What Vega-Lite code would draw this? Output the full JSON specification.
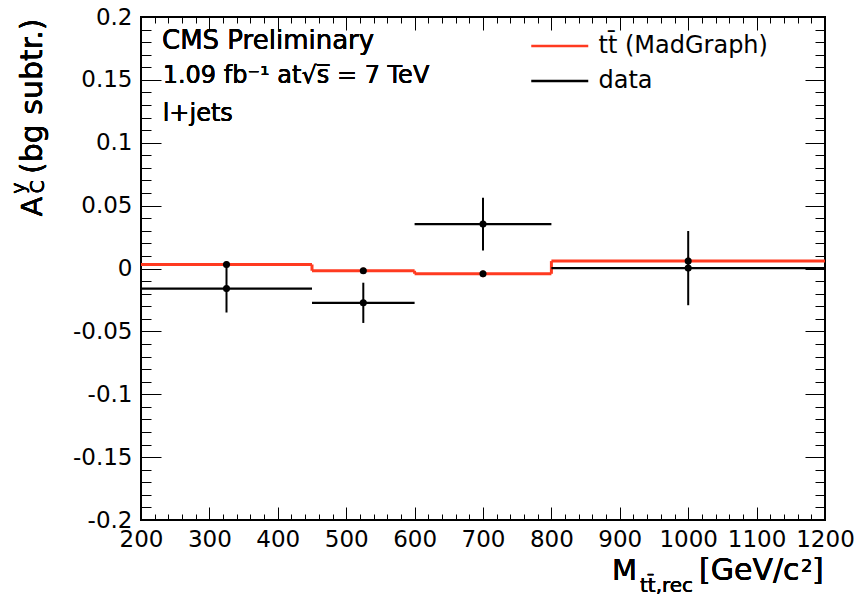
{
  "$schema": "https://vega.github.io/schema/vega-lite/v6.json",
  "autosize": {"type": "none"},
  "padding": {"left": 141, "top": 17, "right": 42, "bottom": 77},
  "width": 684,
  "height": 503,
  "background": "white",
  "config": {
    "view": {"stroke": "black", "strokeWidth": 2},
    "font": "DejaVu Sans"
  },
  "data": {
    "values": [
      {"lo": 200, "hi": 450, "c": 325, "mc": 0.0032, "mcLo": 0.0007, "mcHi": 0.0057, "d": -0.016, "dLo": -0.035, "dHi": 0.003},
      {"lo": 450, "hi": 600, "c": 525, "mc": -0.0018, "mcLo": -0.0043, "mcHi": 0.0007, "d": -0.0273, "dLo": -0.0433, "dHi": -0.0113},
      {"lo": 600, "hi": 800, "c": 700, "mc": -0.0042, "mcLo": -0.0069, "mcHi": -0.0015, "d": 0.0353, "dLo": 0.0144, "dHi": 0.0562},
      {"lo": 800, "hi": 1200, "c": 1000, "mc": 0.0059, "mcLo": 0.0024, "mcHi": 0.0094, "d": 0.0003, "dLo": -0.0292, "dHi": 0.0298}
    ]
  },
  "resolve": {"axis": {"x": "independent", "y": "independent"}},
  "layer": [
    {
      "mark": {"type": "rule", "strokeWidth": 3},
      "encoding": {
        "x": {"field": "lo", "type": "quantitative",
          "scale": {"domain": [200, 1200], "nice": false, "zero": false},
          "axis": {"orient": "bottom", "title": null, "domain": false, "grid": false, "ticks": false,
            "values": [200,300,400,500,600,700,800,900,1000,1100,1200],
            "labelExpr": "'' + datum.value",
            "labelFont": "DejaVu Sans", "labelFontSize": 23, "labelColor": "black",
            "labelPadding": 8, "labelOverlap": false, "labelFlush": false, "labelBound": false}},
        "x2": {"field": "hi"},
        "y": {"field": "mc", "type": "quantitative",
          "scale": {"domain": [-0.2, 0.2], "nice": false, "zero": false},
          "axis": {"orient": "left", "title": null, "domain": false, "grid": false, "ticks": false,
            "values": [-0.2,-0.15,-0.1,-0.05,0,0.05,0.1,0.15,0.2],
            "labelExpr": "'' + datum.value",
            "labelFont": "DejaVu Sans", "labelFontSize": 23, "labelColor": "black",
            "labelPadding": 9, "labelOverlap": false, "labelFlush": false, "labelBound": false}},
        "color": {"datum": "tt\u0304 (MadGraph)", "type": "nominal",
          "scale": {"domain": ["tt\u0304 (MadGraph)", "data"], "range": ["#ff3a20", "black"]},
          "legend": {"orient": "none", "legendX": 406.75, "legendY": 17, "title": null,
            "symbolType": "M-3,0H3", "symbolSize": 361, "symbolStrokeWidth": 2.5,
            "labelFont": "DejaVu Sans", "labelFontSize": 24, "labelColor": "black", "labelLimit": 400,
            "labelOffset": 26.75, "rowPadding": 11, "padding": 0}}
      }
    },
    {
      "transform": [
        {"window": [{"op": "lag", "field": "mc", "as": "prevMc"}], "sort": [{"field": "lo"}]},
        {"filter": "datum.prevMc != null"}
      ],
      "mark": {"type": "rule", "strokeWidth": 3, "color": "#ff3a20"},
      "encoding": {
        "x": {"field": "lo", "type": "quantitative",
          "axis": {"orient": "bottom", "title": null, "domain": false, "grid": false, "labels": false,
            "ticks": true, "tickSize": 13, "offset": -13, "tickColor": "black", "tickWidth": 1,
            "values": [200,300,400,500,600,700,800,900,1000,1100,1200]}},
        "y": {"field": "mc", "type": "quantitative",
          "axis": {"orient": "left", "title": null, "domain": false, "grid": false, "labels": false,
            "ticks": true, "tickSize": 20, "offset": -20, "tickColor": "black", "tickWidth": 1,
            "values": [-0.2,-0.15,-0.1,-0.05,0,0.05,0.1,0.15,0.2]}},
        "y2": {"field": "prevMc"}
      }
    },
    {
      "mark": {"type": "rule", "strokeWidth": 2, "color": "#ff3a20"},
      "encoding": {
        "x": {"field": "c", "type": "quantitative",
          "axis": {"orient": "bottom", "title": null, "domain": false, "grid": false, "labels": false,
            "ticks": true, "tickSize": 6, "offset": -6, "tickColor": "black", "tickWidth": 1,
            "values": [220,240,260,280,320,340,360,380,420,440,460,480,520,540,560,580,620,640,660,680,720,740,760,780,820,840,860,880,920,940,960,980,1020,1040,1060,1080,1120,1140,1160,1180]}},
        "y": {"field": "mcLo", "type": "quantitative",
          "axis": {"orient": "left", "title": null, "domain": false, "grid": false, "labels": false,
            "ticks": true, "tickSize": 10, "offset": -10, "tickColor": "black", "tickWidth": 1,
            "values": [-0.19,-0.18,-0.17,-0.16,-0.14,-0.13,-0.12,-0.11,-0.09,-0.08,-0.07,-0.06,-0.04,-0.03,-0.02,-0.01,0.01,0.02,0.03,0.04,0.06,0.07,0.08,0.09,0.11,0.12,0.13,0.14,0.16,0.17,0.18,0.19]}},
        "y2": {"field": "mcHi"}
      }
    },
    {
      "mark": {"type": "rule", "strokeWidth": 2.3},
      "encoding": {
        "x": {"field": "lo", "type": "quantitative",
          "axis": {"orient": "top", "title": null, "domain": false, "grid": false, "labels": false,
            "ticks": true, "tickSize": 13, "offset": -13, "tickColor": "black", "tickWidth": 1,
            "values": [200,300,400,500,600,700,800,900,1000,1100,1200]}},
        "x2": {"field": "hi"},
        "y": {"field": "d", "type": "quantitative",
          "axis": {"orient": "right", "title": null, "domain": false, "grid": false, "labels": false,
            "ticks": true, "tickSize": 20, "offset": -20, "tickColor": "black", "tickWidth": 1,
            "values": [-0.2,-0.15,-0.1,-0.05,0,0.05,0.1,0.15,0.2]}},
        "color": {"datum": "data", "type": "nominal"}
      }
    },
    {
      "mark": {"type": "rule", "strokeWidth": 2, "color": "black"},
      "encoding": {
        "x": {"field": "c", "type": "quantitative",
          "axis": {"orient": "top", "title": null, "domain": false, "grid": false, "labels": false,
            "ticks": true, "tickSize": 6, "offset": -6, "tickColor": "black", "tickWidth": 1,
            "values": [220,240,260,280,320,340,360,380,420,440,460,480,520,540,560,580,620,640,660,680,720,740,760,780,820,840,860,880,920,940,960,980,1020,1040,1060,1080,1120,1140,1160,1180]}},
        "y": {"field": "dLo", "type": "quantitative",
          "axis": {"orient": "right", "title": null, "domain": false, "grid": false, "labels": false,
            "ticks": true, "tickSize": 10, "offset": -10, "tickColor": "black", "tickWidth": 1,
            "values": [-0.19,-0.18,-0.17,-0.16,-0.14,-0.13,-0.12,-0.11,-0.09,-0.08,-0.07,-0.06,-0.04,-0.03,-0.02,-0.01,0.01,0.02,0.03,0.04,0.06,0.07,0.08,0.09,0.11,0.12,0.13,0.14,0.16,0.17,0.18,0.19]}},
        "y2": {"field": "dHi"}
      }
    },
    {
      "mark": {"type": "circle", "size": 50, "color": "black", "opacity": 1},
      "encoding": {
        "x": {"field": "c", "type": "quantitative", "axis": null},
        "y": {"field": "d", "type": "quantitative", "axis": null}
      }
    },
    {
      "mark": {"type": "circle", "size": 50, "color": "black", "opacity": 1},
      "encoding": {
        "x": {"field": "c", "type": "quantitative", "axis": null},
        "y": {"field": "mc", "type": "quantitative", "axis": null}
      }
    },
    {
      "mark": {"type": "text", "align": "left", "baseline": "alphabetic", "font": "DejaVu Sans", "fontSize": 26, "color": "black"},
      "encoding": {
        "x": {"datum": 230.7, "type": "quantitative", "axis": null},
        "y": {"datum": 0.1746, "type": "quantitative", "axis": null},
        "text": {"value": "CMS Preliminary"}
      }
    },
    {
      "mark": {"type": "text", "align": "left", "baseline": "alphabetic", "font": "DejaVu Sans", "fontSize": 24, "color": "black"},
      "encoding": {
        "x": {"datum": 231.7, "type": "quantitative", "axis": null},
        "y": {"datum": 0.1476, "type": "quantitative", "axis": null},
        "text": {"value": "1.09 fb\u207b\u00b9 at\u221as\u0305 = 7 TeV"}
      }
    },
    {
      "mark": {"type": "text", "align": "left", "baseline": "alphabetic", "font": "DejaVu Sans", "fontSize": 24, "color": "black"},
      "encoding": {
        "x": {"datum": 231.7, "type": "quantitative", "axis": null},
        "y": {"datum": 0.117, "type": "quantitative", "axis": null},
        "text": {"value": "l+jets"}
      }
    },
    {
      "mark": {"type": "text", "align": "left", "baseline": "alphabetic", "font": "DejaVu Sans", "fontSize": 29, "color": "black", "angle": 270},
      "encoding": {
        "x": {"datum": 54.8, "type": "quantitative", "axis": null},
        "y": {"datum": 0.0414, "type": "quantitative", "axis": null},
        "text": {"value": "A"}
      }
    },
    {
      "mark": {"type": "text", "align": "left", "baseline": "alphabetic", "font": "DejaVu Sans", "fontSize": 19, "color": "black", "angle": 270},
      "encoding": {
        "x": {"datum": 57.5, "type": "quantitative", "axis": null},
        "y": {"datum": 0.0598, "type": "quantitative", "axis": null},
        "text": {"value": "C"}
      }
    },
    {
      "mark": {"type": "text", "align": "left", "baseline": "alphabetic", "font": "DejaVu Sans", "fontSize": 19, "color": "black", "angle": 270},
      "encoding": {
        "x": {"datum": 30.4, "type": "quantitative", "axis": null},
        "y": {"datum": 0.0595, "type": "quantitative", "axis": null},
        "text": {"value": "y"}
      }
    },
    {
      "mark": {"type": "text", "align": "left", "baseline": "alphabetic", "font": "DejaVu Sans", "fontSize": 30, "color": "black", "angle": 270},
      "encoding": {
        "x": {"datum": 54.8, "type": "quantitative", "axis": null},
        "y": {"datum": 0.0751, "type": "quantitative", "axis": null},
        "text": {"value": "(bg subtr.)"}
      }
    },
    {
      "mark": {"type": "text", "align": "left", "baseline": "alphabetic", "font": "DejaVu Sans", "fontSize": 29, "color": "black"},
      "encoding": {
        "x": {"datum": 888.6, "type": "quantitative", "axis": null},
        "y": {"datum": -0.2477, "type": "quantitative", "axis": null},
        "text": {"value": "M"}
      }
    },
    {
      "mark": {"type": "text", "align": "left", "baseline": "alphabetic", "font": "DejaVu Sans", "fontSize": 20, "color": "black"},
      "encoding": {
        "x": {"datum": 929.5, "type": "quantitative", "axis": null},
        "y": {"datum": -0.2575, "type": "quantitative", "axis": null},
        "text": {"value": "tt\u0304,rec"}
      }
    },
    {
      "mark": {"type": "text", "align": "left", "baseline": "alphabetic", "font": "DejaVu Sans", "fontSize": 30, "color": "black"},
      "encoding": {
        "x": {"datum": 1015.8, "type": "quantitative", "axis": null},
        "y": {"datum": -0.2477, "type": "quantitative", "axis": null},
        "text": {"value": "[GeV/c"}
      }
    },
    {
      "mark": {"type": "text", "align": "left", "baseline": "alphabetic", "font": "DejaVu Sans", "fontSize": 18, "color": "black"},
      "encoding": {
        "x": {"datum": 1164.9, "type": "quantitative", "axis": null},
        "y": {"datum": -0.2414, "type": "quantitative", "axis": null},
        "text": {"value": "2"}
      }
    },
    {
      "mark": {"type": "text", "align": "left", "baseline": "alphabetic", "font": "DejaVu Sans", "fontSize": 30, "color": "black"},
      "encoding": {
        "x": {"datum": 1181, "type": "quantitative", "axis": null},
        "y": {"datum": -0.2477, "type": "quantitative", "axis": null},
        "text": {"value": "]"}
      }
    }
  ]
}
